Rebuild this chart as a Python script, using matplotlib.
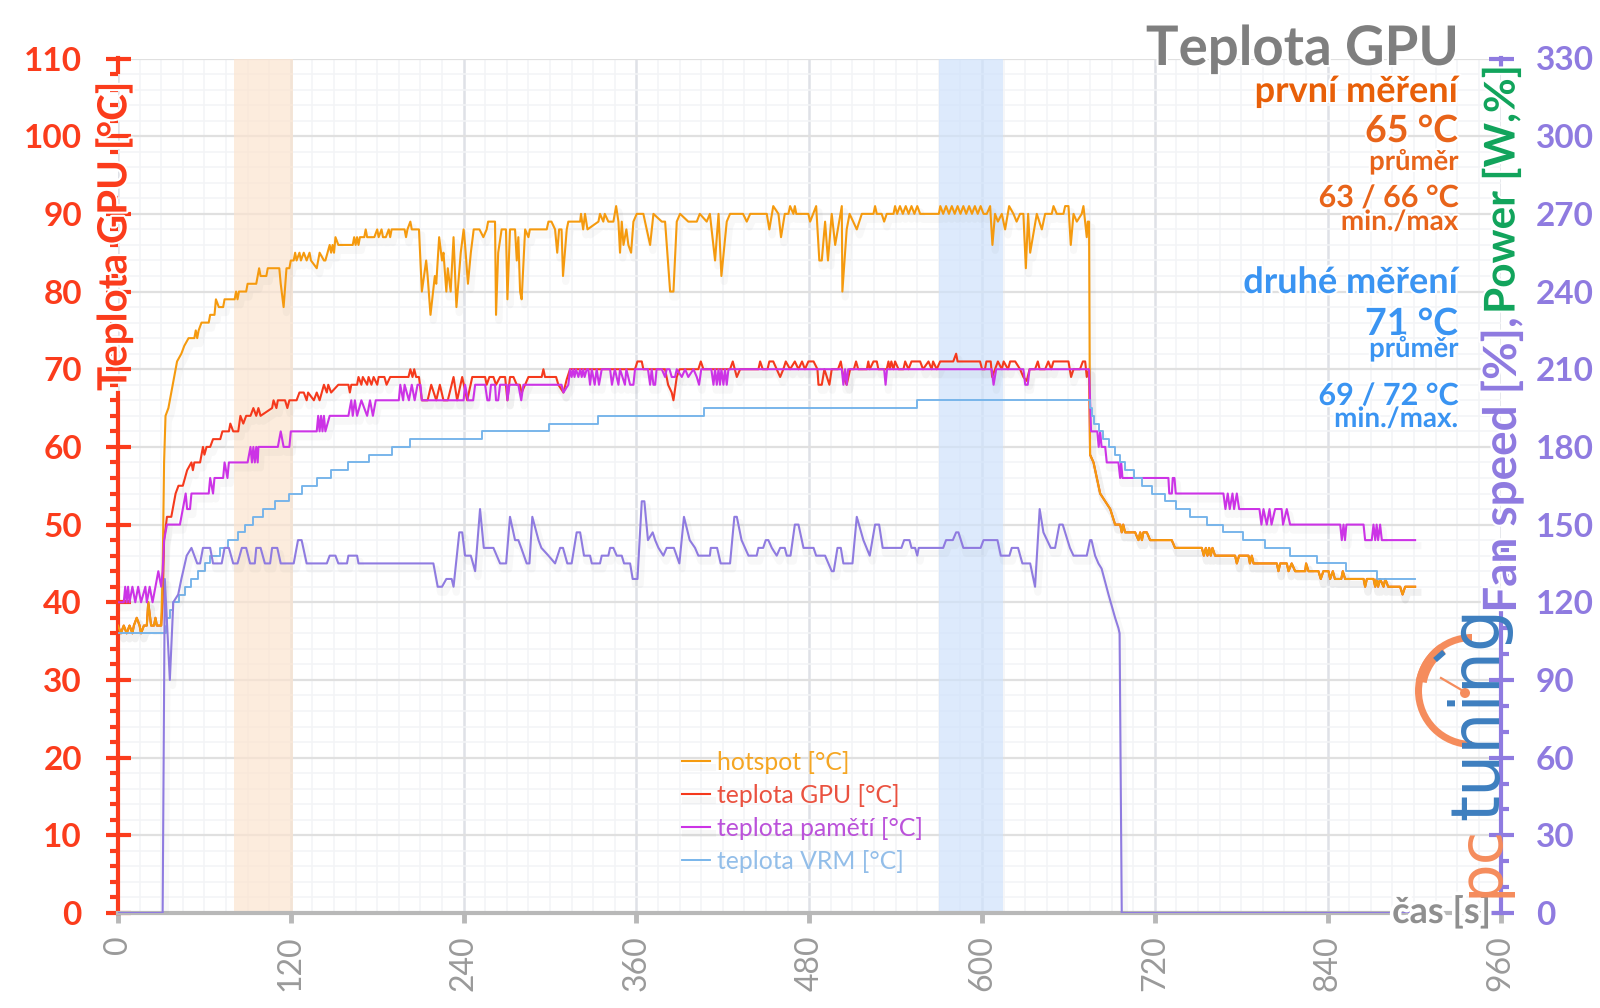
"""Teplota GPU - hotspot, GPU, memory, VRM temperatures and fan speed over time"""

import matplotlib
matplotlib.use("Agg")
import matplotlib.pyplot as plt
import matplotlib.patheffects as pe
from matplotlib.patches import Wedge, Circle
import numpy as np

plt.rcParams['font.family'] = ['Lato', 'DejaVu Sans']

# samples as (time [s], value)
idle = [(0, 37), (2, 36), (4, 37), (6, 36), (8, 37), (10, 36), (11, 37), (13, 38), (15, 37), (16, 36),
        (18, 37), (20, 37), (21, 40), (23, 37), (25, 37), (26, 38), (27, 37), (30, 37)]

cooldown = [(675, 59), (677.4, 58), (679.7, 56), (682, 54), (685.5, 53), (689, 52), (692.4, 50), (695.9, 50),
            (697, 49), (698, 50), (699.3, 49), (706.3, 49), (708.6, 48), (709.8, 49), (711, 48), (712, 49),
            (714.4, 49), (716.7, 48), (731.7, 48), (734, 47), (752.6, 47), (754, 46), (755.4, 47), (756.5, 46),
            (757.7, 47), (758.8, 46), (760, 47), (761.8, 46), (775.7, 46), (776.9, 45), (778.5, 46), (785, 46),
            (786, 45), (787.3, 46), (788.5, 45), (804.7, 45), (805.8, 44), (807, 45), (811.6, 45), (812.8, 44),
            (815, 45), (817.4, 44), (824.4, 44), (825, 45), (826.7, 44), (833.6, 44), (835.2, 43), (837, 44),
            (840.6, 44), (841.7, 43), (843.6, 44), (845, 43), (849.4, 43), (850.5, 44), (852.1, 43), (864.9, 43),
            (866, 42), (867.2, 43), (871.8, 43), (873, 42), (874, 43), (875, 42), (876.4, 43), (878.8, 42),
            (880, 43), (882, 42), (890.3, 42), (892, 41), (893.8, 42), (900.7, 42)]

hotspot_load = [(31, 44), (32, 58), (33, 64), (35, 65), (36, 66), (38, 68), (40, 70), (41, 71), (44, 72), (46, 73),
                (49, 74), (53, 74), (54, 75), (55, 74), (56, 75), (58, 76), (63, 76), (64, 77), (67, 77), (68, 79),
                (70, 78), (73, 78), (74, 79), (81, 79), (82, 80), (83, 79), (84, 80), (89, 80), (90, 81), (96, 81),
                (97, 82), (98, 83), (99, 82), (103, 82), (104, 83), (112, 83), (113, 81), (115, 78), (117, 83),
                (119, 83), (120, 84), (122, 84), (123, 85), (124, 84), (126, 85), (127, 84), (129, 85), (131, 84),
                (133, 85), (134, 84), (138, 83), (140, 85), (143, 84), (144, 84), (147, 86), (148, 85), (149, 86),
                (150, 85), (151, 87), (153, 86), (163, 86), (164, 87), (165, 86), (166, 87), (167, 86), (168, 87),
                (171, 87), (172, 88), (173, 87), (178, 87), (180, 88), (181, 87), (183, 88), (184, 87), (186, 87),
                (188, 88), (189, 87), (190, 88), (199, 88), (200, 87), (201, 88), (203, 89), (204, 88), (209, 88),
                (211, 80), (214, 84), (215, 82), (217, 77), (220, 82), (221, 81), (223, 87), (225, 84), (226, 85),
                (228, 80), (229, 83), (231, 80), (233, 87), (235, 78), (238, 85), (240, 88), (241, 86), (243, 81),
                (245, 85), (247, 88), (251, 88), (253.7, 87), (256, 88), (257, 89), (261.8, 89), (262.5, 77),
                (264, 85), (266.4, 88), (269.4, 88), (270.4, 79), (272.2, 88), (275.7, 88), (276.9, 84), (278, 87),
                (279.2, 80), (280.3, 79), (282.7, 88), (285, 87), (286, 88), (297.7, 88), (298.9, 89), (301, 89),
                (303.5, 88), (305, 85), (306.3, 88), (308, 88), (309, 82), (311.6, 88), (312.7, 89), (320.9, 89),
                (321.5, 90), (323, 88), (324.3, 90), (326, 88), (333.6, 89), (334.7, 90), (337, 89), (338, 90),
                (340.5, 89), (344, 89), (345.9, 91), (347.5, 89), (348.6, 85), (349.8, 89), (351, 86), (353, 88),
                (354.4, 86), (356.3, 85), (357.9, 89), (360.2, 90), (364.8, 90), (369.5, 86), (371.8, 90), (377.6, 89),
                (379.9, 89), (383.4, 80), (385.7, 80), (388, 89), (390.3, 90), (396, 89), (401.9, 89), (404, 90),
                (408.8, 89), (411, 90), (414.6, 84), (417, 90), (419, 82), (422.7, 89), (425, 90), (434, 90),
                (436.6, 89), (439, 90), (450.5, 90), (452.3, 88), (455, 91), (458.6, 90), (460.4, 87), (463, 90),
                (465.5, 90), (466.7, 91), (469, 90), (470, 91), (471, 90), (479.4, 90), (480.6, 89), (484.8, 91),
                (487, 84), (488.7, 84), (491, 89), (493, 84), (495.6, 90), (498, 86), (502.6, 91), (503, 80),
                (506, 88), (508, 90), (513, 88), (516.5, 90), (524.6, 90), (525.7, 91), (526.9, 90), (530.3, 90),
                (532, 89), (533.8, 90), (538.5, 90), (539.6, 91), (541, 90), (543, 91), (545, 90), (547, 91),
                (549, 90), (551, 91), (553, 90), (555, 91), (557, 90), (559, 90), (570, 90), (571, 91), (573, 90),
                (575, 91), (577, 90), (579, 91), (581, 90), (583, 91), (585, 90), (587, 91), (589, 90), (591, 91),
                (593, 90), (595, 91), (597, 90), (599, 91), (601, 90), (603.3, 90), (605.6, 91), (607.2, 86),
                (609, 90), (611, 89), (613.7, 90), (616, 88), (618.8, 91), (621.8, 90), (624, 89), (626.4, 90),
                (628.7, 90), (630.4, 83), (632, 90), (633.4, 85), (638, 90), (641.5, 88), (643.8, 90), (648.4, 90),
                (649.6, 91), (651.9, 90), (656.5, 90), (657.7, 91), (660, 91), (661.6, 86), (663.5, 90), (665.8, 89),
                (669.2, 90), (670.4, 91), (672.7, 87), (673.4, 89), (674.3, 89)]

gpu_load = [(31, 40), (32, 48), (34, 51), (37, 51), (40, 54), (42, 55), (45, 55), (48, 57), (51, 58), (52, 57),
            (53, 58), (57, 58), (59, 60), (60, 59), (61.5, 60), (64, 60), (66, 61), (71, 61), (72.5, 62), (77, 62),
            (78, 63), (80, 62), (83.5, 62), (85, 64), (87, 63), (89, 64), (92, 64), (94, 65), (96, 64), (97.5, 65),
            (99, 64), (107, 65), (108, 66), (110, 65), (111, 66), (116, 66), (117.6, 65), (119, 66), (124, 66),
            (126, 67), (129, 67), (131, 66), (132, 67), (136, 66), (138, 67), (140, 66), (141.5, 67), (143, 68),
            (145, 67), (146, 68), (148, 67), (153, 68), (160, 68), (161, 67), (162, 68), (166, 68), (167, 69),
            (169, 68), (170, 69), (173, 68), (174, 69), (176, 68), (177.5, 69), (180, 68), (181, 69), (185, 69),
            (186.5, 68), (189, 69), (201.7, 69), (203, 70), (204.5, 69), (205.7, 70), (207, 69), (209, 69), (211, 66),
            (215, 66), (217.5, 68), (221, 66), (223.5, 68), (226, 66), (229, 66), (233, 69), (235.5, 66), (239, 69),
            (242.5, 66), (246, 69), (254.9, 69), (256, 68), (257.9, 69), (260.7, 69), (262.5, 68), (265.3, 69),
            (268.8, 69), (270.4, 66), (272.2, 69), (274.6, 69), (276.9, 68), (279, 68), (280.3, 67), (282.7, 68),
            (285, 69), (294.2, 69), (295.4, 70), (296.5, 69), (304.2, 69), (305.8, 68), (309.3, 67), (311.6, 68.7),
            (313.9, 70), (359, 70), (360.7, 71), (363.7, 71), (364.8, 70), (379.9, 70), (382, 68), (384.5, 67),
            (385.7, 66), (388, 69), (390, 70), (403, 70), (404.7, 71), (406.5, 70), (425, 70), (426.9, 71),
            (429.7, 69), (432, 70), (444.7, 70), (445.9, 71), (447.7, 70), (451, 70), (452.3, 71), (455, 71),
            (457.4, 70), (459.8, 69), (462, 70), (463.7, 71), (466.7, 70), (470, 71), (472.5, 70), (475, 71),
            (477, 70), (479.4, 71), (483, 71), (485.7, 70), (486.4, 68), (488.7, 68), (490.5, 70), (494, 68),
            (495.6, 70), (500, 70), (501.9, 71), (503.7, 69), (506, 68), (508.4, 70), (511, 70), (512.5, 71),
            (514, 70), (520, 70), (521, 71), (522, 70), (524.6, 71), (526.9, 71), (528, 70), (533.8, 70), (535, 71),
            (536, 70), (537, 71), (538.5, 70), (539.6, 71), (542, 70), (545.4, 70), (546.6, 71), (548.9, 70),
            (551, 71), (557, 71), (559, 70), (562.8, 71), (565, 70), (566, 71), (568.5, 70), (570.9, 71), (580, 71),
            (582, 72), (583, 71), (598.6, 71), (600, 70), (602, 70), (603, 71), (606, 71), (607, 69), (609, 70),
            (611, 71), (613.7, 70), (615, 71), (618, 70), (619.5, 71), (623, 71), (626.4, 70), (628.7, 69),
            (631, 68.5), (633, 70), (636.8, 70), (638.7, 71), (640, 70), (643.8, 70), (646, 71), (648, 70),
            (649.6, 71), (660, 71), (661.8, 69), (663.5, 70), (668, 70), (670, 71), (671.6, 71), (672.7, 69),
            (674.3, 70)]

memory = [(0, 40), (4, 40), (5, 42), (6, 40), (7, 42), (8, 40), (10, 42), (12, 40), (14, 42), (16, 40), (19, 42),
          (20, 40), (22, 42), (24, 40), (26, 42), (28, 44), (30, 42), (31, 44), (32, 48), (34, 50), (43, 50),
          (45, 52), (47, 54), (48, 52), (50, 52), (51, 54), (63, 54), (64, 56), (66, 54), (67, 56), (73, 56),
          (74, 58), (76, 56), (77, 58), (90, 58), (92, 60), (93, 58), (94, 60), (95, 58), (96, 60), (97, 58),
          (97.5, 60), (111, 60), (113, 62), (115, 60), (119, 60), (120, 62), (138, 62), (139, 64), (140, 62),
          (141, 64), (142, 62), (143, 64), (144, 62), (147, 64), (160, 64), (162, 66), (163, 64), (164.5, 66),
          (166, 64), (169, 66), (173, 64), (175, 66), (177, 64), (179, 66), (195, 66), (196, 68), (198, 66),
          (199, 68), (202, 66), (204, 68), (206, 66), (208, 68), (210, 68), (211, 66), (240, 66), (241, 68),
          (243, 66), (246.6, 66), (248, 68), (254.9, 68), (256.5, 66), (257.9, 66), (259, 68), (261.8, 68),
          (262.5, 66), (264, 66), (265.3, 68), (270, 68), (270.4, 66), (271.8, 68), (278, 68), (279, 67), (280, 66),
          (281.5, 68), (308, 68), (309.3, 67), (312.7, 68), (313.9, 70), (315, 69), (316, 70), (317, 69), (318, 70),
          (319.7, 69), (320.9, 70), (322, 69), (323, 70), (324, 69), (325.5, 70), (326.6, 70), (327.8, 68), (329, 70),
          (331, 68), (332.4, 70), (334, 68), (335.9, 70), (341.7, 70), (343, 68), (345, 70), (347.5, 68), (348.6, 70),
          (352, 68), (353, 70), (355.6, 68), (357.9, 68), (359, 70), (368, 70), (369.5, 68), (370.6, 70), (371.8, 68),
          (373, 68), (374, 70), (377.6, 70), (379.9, 69), (381, 70), (383, 70), (384.5, 69), (386.8, 69), (388, 70),
          (391.5, 69), (393.8, 70), (396, 69), (399.6, 70), (401.9, 69), (403.5, 68), (405, 70), (412, 70),
          (413.5, 68), (414.6, 70), (415.8, 68), (417, 70), (418, 68), (419, 70), (420.4, 68), (421.5, 70),
          (422.7, 68), (423.9, 70), (502.6, 70), (503.7, 68), (504.9, 70), (506, 68), (507, 70), (532, 70), (533, 68),
          (534, 70), (606.7, 70), (608, 68), (609.8, 70), (628.7, 70), (630, 68), (631.7, 68), (633, 70), (674.3, 70),
          (675, 66), (675.7, 62), (680, 62), (681, 60), (682, 62), (683, 60), (685.5, 60), (686.6, 58), (694.7, 58),
          (695.9, 56), (696.6, 58), (697.5, 56), (729.4, 56), (730, 54), (731.8, 54), (732.4, 56), (733.6, 56),
          (734.5, 54), (767.6, 54), (769, 52), (770.6, 54), (772, 52), (773.9, 54), (775, 52), (776.9, 54),
          (778.5, 52), (792.6, 52), (794, 50), (795.4, 52), (797.7, 50), (799.6, 52), (801, 50), (803.5, 52),
          (808, 52), (809, 50), (811.6, 52), (813.9, 50), (848.7, 50), (849.8, 48), (851, 50), (852, 48), (853, 50),
          (864.9, 50), (866, 48), (870.6, 48), (871.8, 50), (873, 48), (874, 50), (875, 48), (876.4, 50), (877.6, 48),
          (900.7, 48)]

# VRM only moves in steps, (time the step starts, level)
vrm = [(0, 36), (33, 37), (34, 38), (36, 39), (38.4, 40), (42.6, 41), (46.5, 42), (51, 43), (55.8, 44), (60.4, 45),
       (64, 46), (70.8, 47), (76.6, 48), (83.6, 49), (88, 50), (94, 51), (101, 52), (109, 53), (119, 54), (127.5, 55),
       (138, 56), (148, 57), (160, 58), (174, 59), (190, 60), (203, 61), (252.5, 62), (299, 63), (333, 64), (407, 65),
       (555, 66), (675, 65), (676, 64), (677.4, 63), (681.5, 62), (684.3, 61), (687.8, 60), (692.4, 59), (695.9, 58),
       (699.3, 57), (705.6, 56), (711, 55), (717.9, 54), (727, 53), (735, 52), (744.5, 51), (756, 50), (767.6, 49),
       (781.5, 48), (796.6, 47), (814, 46), (832.5, 45), (853, 44), (874, 43), (900.7, 43)]

# fan speed, read on the right hand axis
fan = [(0, 0), (31, 0), (32.5, 129), (36, 90), (38.4, 120), (41.8, 123), (44, 129), (47.7, 138), (51, 141), (55, 135),
       (57, 135), (59, 141), (64, 141), (66, 135), (72, 135), (74, 141), (77, 141), (80, 135), (83, 135), (86, 141),
       (89, 141), (91.7, 135), (95, 135), (96, 141), (99, 141), (102, 135), (105.6, 135), (107, 141), (110.6, 141),
       (113, 135), (122, 135), (125, 144), (127.5, 144), (131, 135), (145, 135), (147, 138), (151, 138), (153, 135),
       (159, 135), (160, 138), (166, 138), (167, 135), (219, 135), (222, 126), (225, 126), (228, 129), (231.7, 129),
       (233, 126), (237, 147), (239, 147), (241, 138), (245, 138), (248, 132), (251.4, 156), (254, 141), (260.7, 141),
       (263, 138), (265.3, 135), (269.5, 135), (272.2, 153), (275.7, 144), (278, 144), (280, 141), (283.8, 135),
       (285.7, 135), (287.7, 153), (292, 144), (294, 141), (298.9, 138), (303.5, 135), (307, 141), (309, 141),
       (312, 135), (315, 135), (318.5, 147), (320.9, 147), (323.6, 138), (327.8, 138), (329, 135), (334.7, 135),
       (335.9, 138), (340.5, 138), (341.7, 141), (344, 141), (346.3, 138), (349.8, 138), (351.4, 135), (355.6, 135),
       (357.4, 129), (360.7, 129), (363.7, 159), (365.5, 159), (368, 144), (371.3, 147), (373, 144), (375.3, 141),
       (378.7, 138), (381, 141), (386, 141), (389.8, 135), (393, 153), (397, 144), (400.7, 141), (403, 138), (411, 138),
       (411.6, 141), (416, 141), (418.5, 135), (425, 135), (428, 153), (429.7, 153), (433, 144), (435.4, 141),
       (437.8, 138), (443.5, 138), (444.7, 141), (448, 141), (449.8, 144), (451.6, 144), (454, 141), (457.4, 138),
       (459.8, 141), (463, 141), (464.4, 138), (467, 138), (470, 150), (472.5, 150), (476, 141), (483, 141),
       (484.8, 138), (491, 138), (495.6, 132), (497, 132), (499.6, 141), (501.9, 141), (503.7, 135), (510, 135),
       (513, 153), (517.6, 144), (522, 138), (525.7, 150), (528.5, 150), (531, 141), (544, 141), (545.9, 144),
       (549.6, 144), (551, 141), (553.5, 141), (555, 138), (556, 141), (573, 141), (575, 144), (579.7, 144), (582, 147),
       (583.6, 147), (587, 141), (599, 141), (601, 144), (610.7, 144), (613, 138), (619, 138), (620.6, 141), (625, 141),
       (628, 135), (633.4, 135), (636.8, 126), (640, 156), (642.6, 147), (647.7, 141), (650.7, 141), (653.7, 150),
       (656, 150), (661, 141), (663.5, 138), (672.7, 138), (675, 144), (676, 144), (678.5, 138), (680.8, 135),
       (683, 133), (687.8, 123), (692.4, 114), (694.7, 110), (695.5, 108), (697, 0), (900, 0)]

hotspot = idle + hotspot_load + cooldown
gpu = idle + gpu_load + cooldown

temp_ticks = list(range(0, 111, 10))
right_ticks = list(range(0, 331, 30))
time_ticks = list(range(0, 961, 120))

RED = '#fb3c1c'
PURPLE = '#8f7be0'
GRAY = '#9a9a9a'
DARK_ORANGE = '#e8641a'
BLUE = '#3a94f2'
LOGO_ORANGE = '#f58c5c'
LOGO_BLUE = '#3d7ebf'

W, H = 1600, 1008
fig = plt.figure(figsize=(W / 100, H / 100), dpi=100, facecolor='white')

L, R, T, B = 118, 1500.5, 58.5, 913
rect = [L / W, 1 - B / H, (R - L) / W, (B - T) / H]

ax = fig.add_axes(rect, zorder=1)
ax.patch.set_alpha(0)
ax.set_xlim(0, 960)
ax.set_ylim(0, 110)
ax.set_axisbelow(True)

ax.set_xticks(time_ticks)
ax.set_xticks(np.arange(0, 961, 15), minor=True)
ax.set_yticks(temp_ticks)
ax.set_yticks(np.arange(0, 111, 2), minor=True)
ax.grid(True, which='minor', color='#f3f4f6', lw=1.1)
ax.grid(True, which='major', axis='y', color='#e0e0e0', lw=1.6)
ax.grid(True, which='major', axis='x', color='#dfe1e7', lw=1.8)

ax.axvspan(80.5, 121.7, color='#fbe4cf', alpha=0.7, lw=0, zorder=1)
ax.axvspan(570, 614.6, color='#cfe2fb', alpha=0.7, lw=0, zorder=1)

shadow = [pe.SimpleLineShadow(offset=(2, -4), shadow_color='#777777', alpha=0.05, linewidth=5), pe.Normal()]
ax.plot(*zip(*gpu), color='#f5391c', lw=1.5, zorder=3, label='teplota GPU [°C]', path_effects=shadow)
ax.plot(*zip(*hotspot), color='#f59a0e', lw=1.5, zorder=4, label='hotspot [°C]', path_effects=shadow)
ax.plot(*zip(*memory), color='#cc33e6', lw=1.5, zorder=5, label='teplota pamětí [°C]', path_effects=shadow)
ax.plot(*zip(*vrm), color='#74b3ea', lw=1.35, zorder=6, drawstyle='steps-post', label='teplota VRM [°C]')

for side in ('top', 'right'):
    ax.spines[side].set_visible(False)
ax.spines['left'].set_color(RED)
ax.spines['left'].set_linewidth(3)
ax.spines['left'].set_bounds(0, 67)
ax.spines['bottom'].set_color('#b8b8b8')
ax.spines['bottom'].set_linewidth(3)

ax.tick_params(axis='y', which='major', direction='inout', length=18, width=3, color=RED,
               labelcolor=RED, labelsize=24, pad=17)
ax.tick_params(axis='y', which='minor', direction='out', length=6, width=3, color=RED)
ax.tick_params(axis='x', which='major', direction='out', length=7.5, width=3.5, color='#b8b8b8',
               labelcolor=GRAY, labelsize=23, pad=8.5, labelrotation=90)
ax.tick_params(axis='x', which='minor', length=0)
plt.setp(ax.get_yticklabels(), fontweight='bold')

# the axis title sits on top of the upper part of the spine, only the top cap stays
for tick, value in zip(ax.yaxis.get_major_ticks(), temp_ticks):
    if 70 <= value <= 100:
        tick.tick1line.set_visible(False)
for tick, value in zip(ax.yaxis.get_minor_ticks(), np.arange(0, 111, 2)):
    if value > 66:
        tick.tick1line.set_visible(False)

ax2 = ax.twinx()
ax2.set_zorder(2)
ax2.set_ylim(0, 330)
ax2.plot(*zip(*fan), color=PURPLE, lw=1.5, zorder=6, path_effects=shadow)
ax2.set_yticks(right_ticks)
ax2.set_yticks(np.arange(0, 331, 10), minor=True)
for side in ('top', 'left', 'bottom'):
    ax2.spines[side].set_visible(False)
ax2.spines['right'].set_color(PURPLE)
ax2.spines['right'].set_linewidth(3)
ax2.spines['right'].set_bounds(0, 117)
ax2.tick_params(axis='y', which='major', direction='inout', length=18, width=3, color=PURPLE,
                labelcolor=PURPLE, labelsize=24, pad=16.5)
ax2.tick_params(axis='y', which='minor', direction='out', length=6, width=3, color=PURPLE)
plt.setp(ax2.get_yticklabels(), fontweight='bold')

for tick, value in zip(ax2.yaxis.get_major_ticks(), right_ticks):
    if 120 <= value <= 300:
        tick.tick2line.set_visible(False)
for tick, value in zip(ax2.yaxis.get_minor_ticks(), np.arange(0, 331, 10)):
    if value > 110:
        tick.tick2line.set_visible(False)

handles, labels = ax.get_legend_handles_labels()
order = [1, 0, 2, 3]
ax.legend([handles[i] for i in order], [labels[i] for i in order], frameon=False, loc='upper left',
          bbox_to_anchor=(682 / W, 1 - 751 / H), bbox_transform=fig.transFigure, borderpad=0, borderaxespad=0,
          fontsize=17.8, labelspacing=0.4, handlelength=1.12, handletextpad=0.3,
          labelcolor=['#f5a623', '#ea5240', '#bb52da', '#93bee9'])

# everything placed by eye goes on an overlay in pixel coordinates
over = fig.add_axes([0, 0, 1, 1], zorder=3)
over.set_xlim(0, W)
over.set_ylim(H, 0)
over.axis('off')


def label(x, y, s, color, size, halo=3, **kw):
    t = over.text(x, y, s, color=color, fontsize=size, fontweight='bold', **kw)
    t.set_path_effects([pe.withStroke(linewidth=halo, foreground='white')])
    return t


# short caps left of the axis titles
over.plot([118, 118], [58, 72], color=RED, lw=3)
over.plot([1500.5, 1500.5], [58, 70], color=PURPLE, lw=3)

label(114, 391, 'Teplota GPU [°C]', RED, 29, halo=3, rotation=90, ha='center', va='bottom')
label(1502, 314, 'Power [W,%]', '#12a45c', 30.5, halo=3, rotation=90, ha='center', va='bottom')
label(1502, 317, 'Fan speed [%],', PURPLE, 33, halo=3, rotation=90, ha='center', va='top')

label(1459, 65, 'Teplota GPU', '#7f7f7f', 39.3, ha='right', va='baseline')
label(1458, 102, 'první měření', '#e85f08', 26, ha='right', va='baseline')
label(1458, 142, '65 °C', DARK_ORANGE, 27, ha='right', va='baseline')
label(1458, 170, 'průměr', DARK_ORANGE, 19.8, ha='right', va='baseline')
label(1458, 207, '63 / 66 °C', DARK_ORANGE, 22, ha='right', va='baseline')
label(1458, 230, 'min./max', DARK_ORANGE, 20, ha='right', va='baseline')
label(1458, 293, 'druhé měření', BLUE, 26, ha='right', va='baseline')
label(1458, 335, '71 °C', BLUE, 27, ha='right', va='baseline')
label(1458, 357, 'průměr', BLUE, 19.8, ha='right', va='baseline')
label(1458, 405, '69 / 72 °C', BLUE, 22, ha='right', va='baseline')
label(1458, 427, 'min./max.', BLUE, 20, ha='right', va='baseline')

label(1491, 923, 'čas [s]', '#8f8f8f', 26, halo=5, ha='right', va='baseline')

# pctuning logo with the gauge
over.add_patch(Wedge((1472, 691), 57, 90, 270, width=7, facecolor=LOGO_ORANGE, lw=0))
over.add_patch(Wedge((1472, 691), 57, 190, 235, width=11, facecolor=LOGO_ORANGE, lw=0))
over.plot([1435, 1444], [660, 652], color=LOGO_BLUE, lw=4, solid_capstyle='butt')
over.plot([1441, 1465], [678, 692], color=LOGO_ORANGE, lw=1.6)
over.add_patch(Circle((1465, 693), 5, facecolor=LOGO_ORANGE, lw=0))
over.text(1498, 897, 'pc', color=LOGO_ORANGE, fontsize=44, family='DejaVu Sans',
          rotation=90, ha='left', va='baseline', rotation_mode='anchor')
over.text(1498, 820, 'tuning', color=LOGO_BLUE, fontsize=48, family='DejaVu Sans',
          rotation=90, ha='left', va='baseline', rotation_mode='anchor')

fig.savefig('out.png', dpi=100)
plt.close(fig)
